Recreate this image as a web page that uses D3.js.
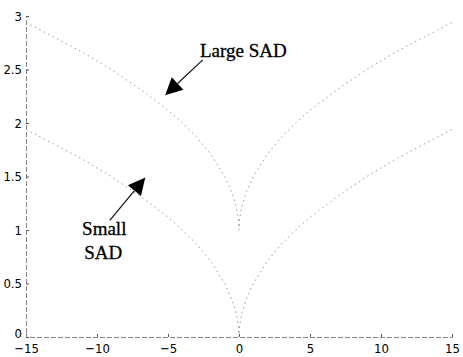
<!DOCTYPE html>
<html>
<head>
<meta charset="UTF-8">
<script src="https://d3js.org/d3.v7.min.js"></script>
<style>
  body { margin: 0; background: #fff; }
  .tick text { font-family: "Liberation Sans Narrow", "DejaVu Sans Condensed", Arial, sans-serif; font-size: 13px; fill: #000; }
  .note { font-family: "Liberation Serif", "Times New Roman", serif; font-size: 19px; fill: #000; stroke: #000; stroke-width: 0.3px; }
</style>
</head>
<body>
<svg width="463" height="357"></svg>
<script>
// values
const xs = [-15, -14, -13, -12, -11, -10, -9, -8, -7, -6, -5, -4, -3, -2, -1, -0.5, -0.2, -0.05, 0,
            0.05, 0.2, 0.5, 1, 2, 3, 4, 5, 6, 7, 8, 9, 10, 11, 12, 13, 14, 15];
const largeSAD = [2.94, 2.87, 2.80, 2.73, 2.66, 2.58, 2.50, 2.41, 2.32, 2.22, 2.12, 2.00, 1.87, 1.71, 1.50, 1.35, 1.22, 1.11, 1.00,
                  1.11, 1.22, 1.35, 1.50, 1.71, 1.87, 2.00, 2.12, 2.22, 2.32, 2.41, 2.50, 2.58, 2.66, 2.73, 2.80, 2.87, 2.94];
const smallSAD = [1.94, 1.87, 1.80, 1.73, 1.66, 1.58, 1.50, 1.41, 1.32, 1.22, 1.12, 1.00, 0.87, 0.71, 0.50, 0.35, 0.22, 0.11, 0.00,
                  0.11, 0.22, 0.35, 0.50, 0.71, 0.87, 1.00, 1.12, 1.22, 1.32, 1.41, 1.50, 1.58, 1.66, 1.73, 1.80, 1.87, 1.94];
const xTicks = [-15, -10, -5, 0, 5, 10, 15];
const yTicks = [0, 0.5, 1, 1.5, 2, 2.5, 3];

const margin = { top: 16, right: 11, bottom: 20, left: 26 };
const width = 463 - margin.left - margin.right;
const height = 357 - margin.top - margin.bottom;

const svg = d3.select("svg").append("g")
    .attr("transform", `translate(${margin.left},${margin.top})`);

const x = d3.scaleLinear().domain([-15, 15]).range([0, width]);
const y = d3.scaleLinear().domain([0, 3]).range([height, 0]);

// axes
const gx = svg.append("g")
    .attr("transform", `translate(0,${height})`)
    .call(d3.axisBottom(x).tickValues(xTicks).tickSize(-3).tickPadding(7));
const gy = svg.append("g")
    .call(d3.axisLeft(y).tickValues(yTicks).tickSize(-3).tickPadding(4).tickFormat(d3.format("")));
[gx, gy].forEach(g => {
    g.select(".domain").attr("stroke", "#888").attr("stroke-dasharray", "5,2");
    g.selectAll(".tick line").attr("stroke", "#555");
});
// lift the "0" label a little so it clears "-15"
gy.selectAll(".tick text").filter(d => d === 0).attr("dy", "0.05em");

// curves
const line = d3.line().x((d, i) => x(xs[i])).y(d => y(d));
[largeSAD, smallSAD].forEach(s => {
    svg.append("path")
        .datum(s)
        .attr("d", line)
        .attr("fill", "none")
        .attr("stroke", "#999")
        .attr("stroke-width", 1)
        .attr("stroke-dasharray", "1.5,3.5");
});

// annotations
function arrow(x0, y0, x1, y1) {
    const px0 = x(x0), py0 = y(y0), px1 = x(x1), py1 = y(y1);
    const a = Math.atan2(py1 - py0, px1 - px0);
    const len = 17, hw = 8.5;
    const bx = px1 - len * Math.cos(a), by = py1 - len * Math.sin(a);
    svg.append("line")
        .attr("x1", px0).attr("y1", py0).attr("x2", bx).attr("y2", by)
        .attr("stroke", "#111").attr("stroke-width", 1.2);
    svg.append("path")
        .attr("d", `M${px1},${py1}L${bx + hw * Math.sin(a)},${by - hw * Math.cos(a)}L${bx - hw * Math.sin(a)},${by + hw * Math.cos(a)}Z`)
        .attr("fill", "#000");
}
arrow(-2.55, 2.59, -5.2, 2.26);
arrow(-9.1, 1.09, -6.6, 1.49);

svg.append("text").attr("class", "note").attr("x", x(-2.75)).attr("y", y(2.62)).text("Large SAD");
svg.append("text").attr("class", "note").attr("x", x(-11.05)).attr("y", y(0.95)).text("Small");
svg.append("text").attr("class", "note").attr("x", x(-10.9)).attr("y", y(0.73)).text("SAD");
</script>
</body>
</html>
